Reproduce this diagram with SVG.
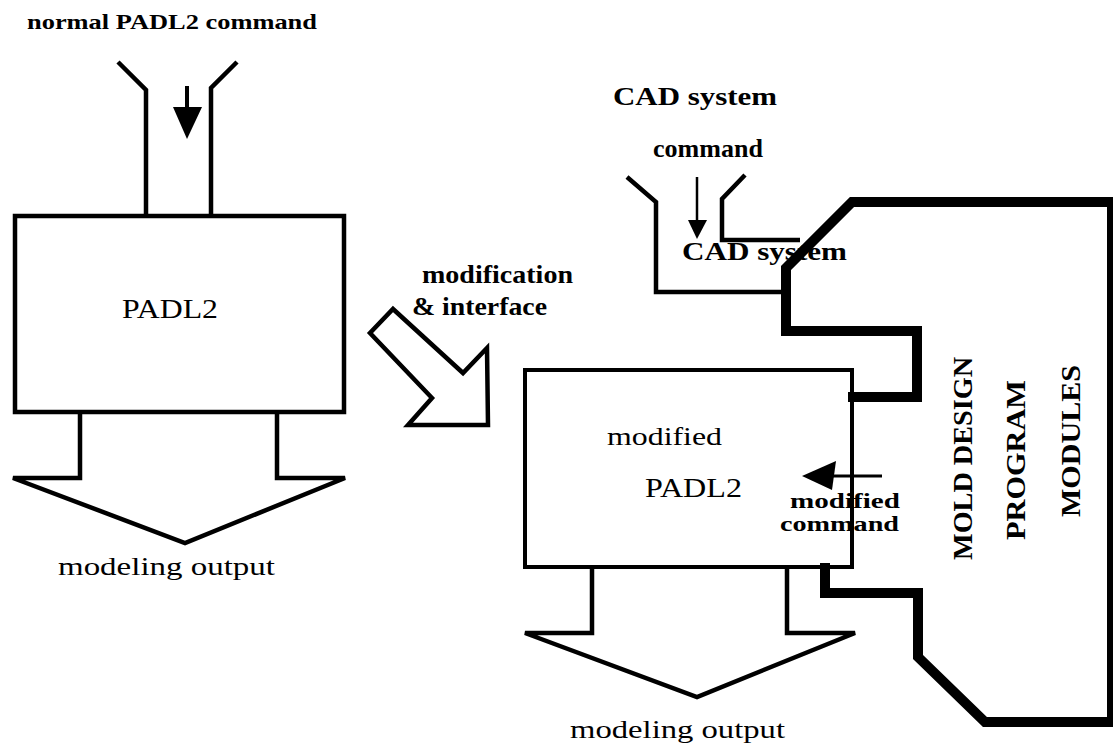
<svg xmlns="http://www.w3.org/2000/svg" width="1115" height="751" viewBox="0 0 1115 751">
<style>
.ln{fill:none;stroke:#000;stroke-width:4.5;stroke-linejoin:miter;stroke-linecap:butt}
.th{fill:none;stroke:#000;stroke-width:10;stroke-linejoin:miter;stroke-linecap:butt}
.box{fill:#fff;stroke:#000;stroke-width:4.5}
.t{font-family:"Liberation Serif","Times New Roman",serif;fill:#000}
.b{font-weight:bold}
</style>
<rect width="1115" height="751" fill="#fff"/>
<g id="input-normal">
<text class="t b" x="27" y="29" font-size="22" textLength="290" lengthAdjust="spacingAndGlyphs">normal  PADL2 command</text>
<path class="ln" d="M118,62 L146,90 L146,217"/>
<path class="ln" d="M237,62 L211,88 L211,217"/>
<line x1="187" y1="86" x2="187" y2="108" stroke="#000" stroke-width="4"/>
<polygon points="173,107 202,107 187,139" fill="#000"/>
</g>
<g id="padl2">
<rect class="box" x="15" y="216" width="329" height="196"/>
<text class="t" x="122" y="318" font-size="28" textLength="96" lengthAdjust="spacingAndGlyphs">PADL2</text>
</g>
<g id="output-left">
<path class="ln" d="M80,414 L80,478 L13,478 L185,543 L345,478 L277,478 L277,414"/>
<text class="t" x="58" y="575" font-size="26" textLength="217" lengthAdjust="spacingAndGlyphs">modeling output</text>
</g>
<g id="modification">
<polygon class="ln" points="393,309 463,373 487,348 488,425 408,425 432,398 370,333"/>
<text class="t b" x="422" y="283" font-size="26" textLength="151" lengthAdjust="spacingAndGlyphs">modification</text>
<text class="t b" x="412" y="315" font-size="26" textLength="135" lengthAdjust="spacingAndGlyphs">&amp; interface</text>
</g>
<g id="cad-system">
<text class="t b" x="613" y="105" font-size="25" textLength="164" lengthAdjust="spacingAndGlyphs">CAD system</text>
<text class="t b" x="653" y="157" font-size="25" textLength="110" lengthAdjust="spacingAndGlyphs">command</text>
<path class="ln" d="M627,177 L656,202 L656,292 L786,292"/>
<path class="ln" d="M745,175 L722,199 L722,240 L800,240"/>
<line x1="697" y1="177" x2="697" y2="222" stroke="#000" stroke-width="2.5"/>
<polygon points="688,220 707,220 697,239" fill="#000"/>
<text class="t b" x="682" y="260" font-size="25" textLength="165" lengthAdjust="spacingAndGlyphs">CAD system</text>
</g>
<g id="modified-padl2">
<text class="t b" x="790" y="508" font-size="22" textLength="110" lengthAdjust="spacingAndGlyphs">modified</text>
<text class="t b" x="780" y="531" font-size="22" textLength="119" lengthAdjust="spacingAndGlyphs">command</text>
<rect x="525" y="370" width="327" height="197" fill="none" stroke="#000" stroke-width="4"/>
<text class="t" x="607" y="445" font-size="26" textLength="115" lengthAdjust="spacingAndGlyphs">modified</text>
<text class="t" x="645" y="497" font-size="27" textLength="97" lengthAdjust="spacingAndGlyphs">PADL2</text>
</g>
<g id="output-right">
<path class="ln" d="M592,569 L592,633 L525,633 L697,697 L855,633 L787,633 L787,569"/>
<text class="t" x="570" y="738" font-size="26" textLength="215" lengthAdjust="spacingAndGlyphs">modeling output</text>
</g>
<g id="mold-design">
<path class="th" d="M848,397 L917,397 L917,331 L786,331 L786,268 L852,202 L1112,202"/>
<path d="M1110,197 L1110,727" fill="none" stroke="#000" stroke-width="6"/>
<path class="th" d="M1113,722 L985,722 L918,657 L918,593 L825,593 L825,563"/>
<text class="t b" font-size="28" transform="translate(972,560) rotate(-90)" textLength="203" lengthAdjust="spacingAndGlyphs">MOLD DESIGN</text>
<text class="t b" font-size="28" transform="translate(1025,540) rotate(-90)" textLength="160" lengthAdjust="spacingAndGlyphs">PROGRAM</text>
<text class="t b" font-size="28" transform="translate(1080,517) rotate(-90)" textLength="152" lengthAdjust="spacingAndGlyphs">MODULES</text>
</g>
<g id="connectors">
<line x1="882" y1="476" x2="830" y2="476" stroke="#000" stroke-width="3"/>
<polygon points="802,476 836,461 832,490" fill="#000"/>
</g>
</svg>
